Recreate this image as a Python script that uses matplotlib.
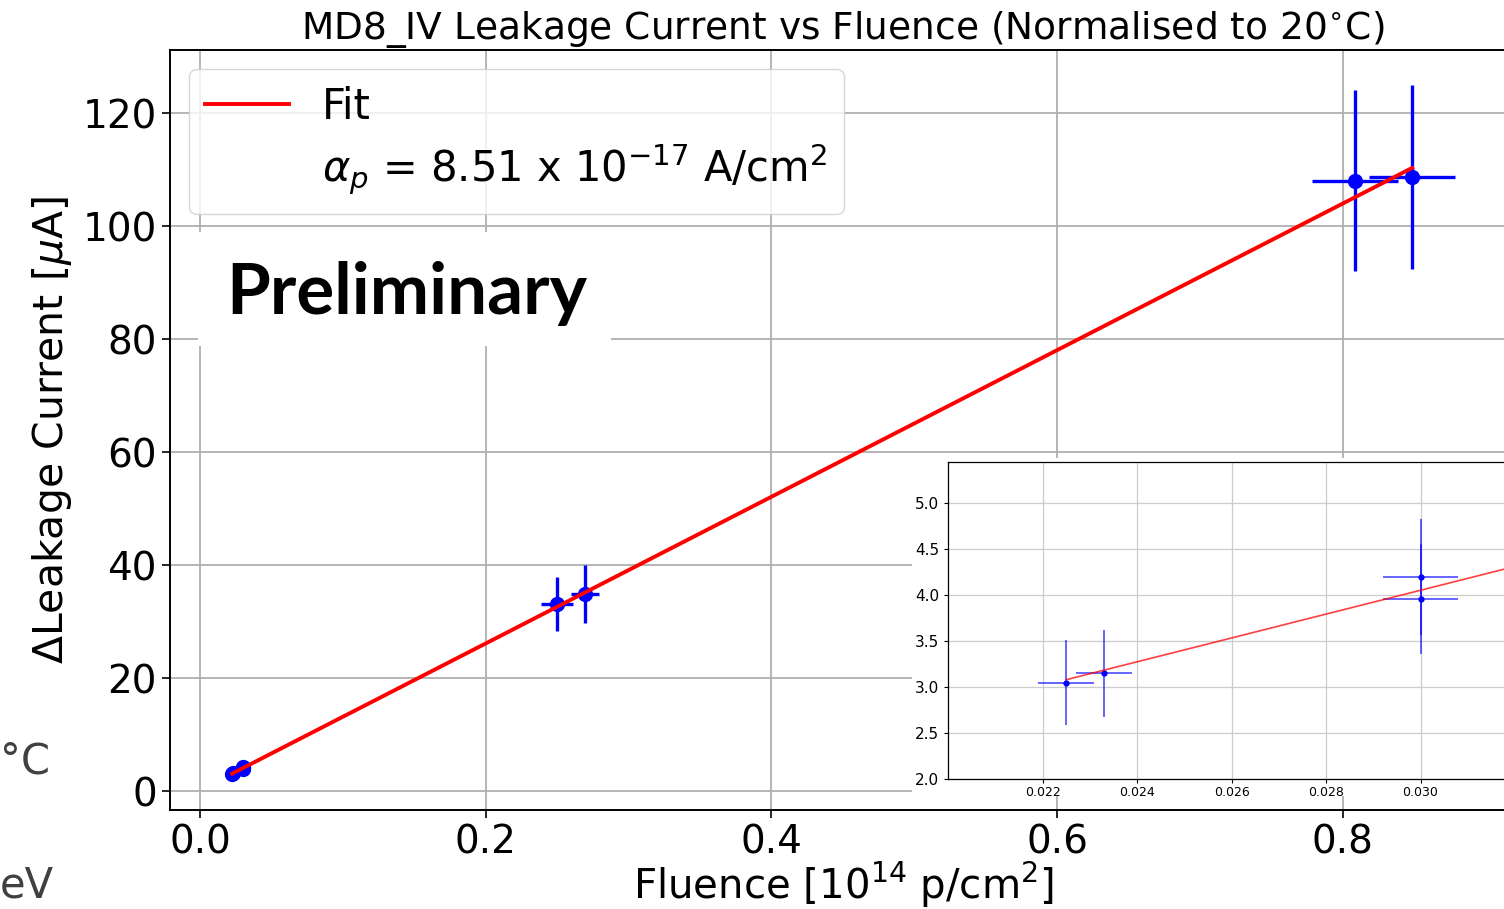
import matplotlib.pyplot as plt
from matplotlib.patches import Rectangle

# fluence [1e14 p/cm^2], leakage current increase [uA]
fluence = [0.0225, 0.0233, 0.0300, 0.0300, 0.250, 0.2695, 0.8085, 0.8485]
fluence_err = [0.0006, 0.0006, 0.0008, 0.0008, 0.011, 0.010, 0.030, 0.030]
current = [3.05, 3.15, 4.20, 3.96, 33.1, 34.9, 108.0, 108.7]
current_err = [0.46, 0.47, 0.63, 0.60, 4.8, 5.1, 16.0, 16.3]

# linear fit
fit_slope = 129.8
fit_intercept = 0.16
alpha_label = r'$\alpha_p$ = 8.51 x $10^{-17}$ A/cm$^2$'

x_ticks = [0.0, 0.2, 0.4, 0.6, 0.8]
y_ticks = [0, 20, 40, 60, 80, 100, 120]
inset_x_ticks = [0.022, 0.024, 0.026, 0.028, 0.030]
inset_y_ticks = [2.0, 2.5, 3.0, 3.5, 4.0, 4.5, 5.0]

fit_x = [min(fluence), max(fluence)]
fit_y = [fit_slope * x + fit_intercept for x in fit_x]

fig = plt.figure(figsize=(15.04, 9.09), dpi=100)
ax = fig.add_axes([0.1130, 0.1089, 0.895, 0.836])
ax.set_zorder(0)

ax.errorbar(fluence, current, xerr=fluence_err, yerr=current_err, fmt='o',
            color='blue', markersize=10, elinewidth=2.4, capsize=0, zorder=3)
ax.plot(fit_x, fit_y, color='red', linewidth=2.8, label='Fit', zorder=4)
ax.plot([], [], ' ', label=alpha_label)

ax.set_xlim(-0.021, 0.9212)
ax.set_ylim(-3.36, 131.15)
ax.set_xticks(x_ticks)
ax.set_yticks(y_ticks)
ax.grid(True, color='#b0b0b0', linewidth=1.3)
ax.set_axisbelow(True)
ax.tick_params(labelsize=28, length=6, width=1.2)
for s in ax.spines.values():
    s.set_linewidth(1.4)

ax.set_title('MD8_IV Leakage Current vs Fluence (Normalised to 20$^{\\circ}$C)',
             fontsize=27, pad=6)
ax.set_xlabel('Fluence [$10^{14}$ p/cm$^2$]', fontsize=29, labelpad=-1)
ax.set_ylabel(r'$\Delta$Leakage Current [$\mu$A]', fontsize=29.5, labelpad=6)

leg = ax.legend(loc='upper left', fontsize=30, handlelength=2.0,
                borderaxespad=0.45, framealpha=0.8, labelspacing=0.35,
                borderpad=0.4)
leg.set_zorder(5)

# white patch where the inset and the "Preliminary" stamp sit
fig.add_artist(Rectangle((912 / 1504, 1 - 796 / 909), 0.5, (796 - 458) / 909,
                         transform=fig.transFigure, facecolor='white',
                         edgecolor='none', zorder=1))
fig.add_artist(Rectangle((198 / 1504, 1 - 346 / 909), (611 - 198) / 1504,
                         (346 - 232) / 909, transform=fig.transFigure,
                         facecolor='white', edgecolor='none', zorder=1))
fig.text(226 / 1504, 1 - 294 / 909, 'Preliminary', fontsize=51,
         fontweight='bold', family='Lato', va='center', ha='left', zorder=3)

# slide fragments at the left edge
fig.text(0.0, 1 - 762 / 909, '°C', fontsize=30, color='#404040',
         va='center', ha='left')
fig.text(0.0, 1 - 886 / 909, 'eV', fontsize=30, color='#404040',
         va='center', ha='left')

# zoomed inset of the low fluence points
axin = fig.add_axes([948 / 1504, 1 - 779 / 909, 0.377, (779 - 462) / 909])
axin.set_zorder(2)
axin.errorbar(fluence, current, xerr=fluence_err, yerr=current_err, fmt='o',
              color='blue', markersize=3.5, elinewidth=1.2, capsize=0,
              ecolor=(0, 0, 1, 0.7), zorder=3)
axin.plot(fit_x, fit_y, color='red', linewidth=1.2, alpha=0.75, zorder=4)
axin.set_xlim(0.0200, 0.0320)
axin.set_ylim(2.0, 5.45)
axin.set_xticks(inset_x_ticks)
axin.set_yticks(inset_y_ticks)
axin.grid(True, color='#cccccc', linewidth=0.9)
axin.set_axisbelow(True)
axin.tick_params(axis='y', labelsize=11, length=3, width=0.8)
axin.tick_params(axis='x', labelsize=9, length=3, width=0.8, pad=2)
for s in axin.spines.values():
    s.set_linewidth(0.9)

fig.savefig('out.png', dpi=100)
